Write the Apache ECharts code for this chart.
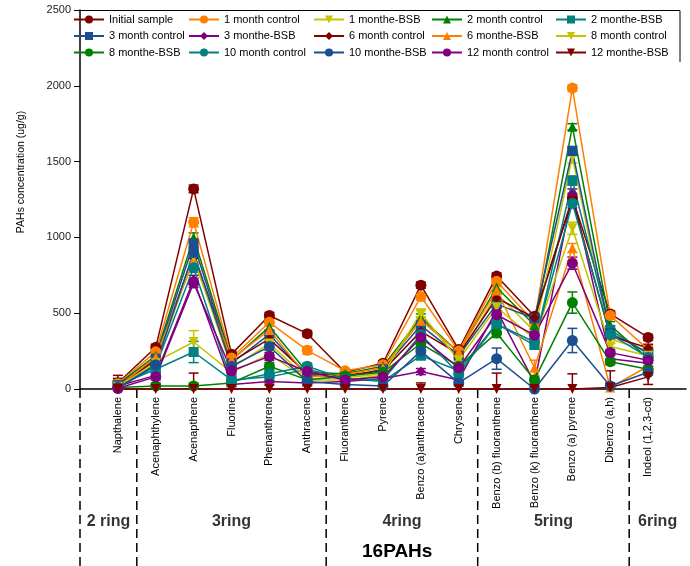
<!DOCTYPE html>
<html>
<head>
<meta charset="utf-8">
<script src="https://cdn.jsdelivr.net/npm/echarts@6/dist/echarts.min.js"></script>
<style>
  html, body { margin: 0; padding: 0; background: #fff; }
  #chart { width: 690px; height: 566px; }
</style>
</head>
<body>
<div id="chart"></div>
<script>
// 16 PAHs, one line per sample
var categories = ['Napthalene', 'Acenaphthylene', 'Acenapthene', 'Fluorine', 'Phenanthrene', 'Anthracene',
    'Fluoranthene', 'Pyrene', 'Benzo (a)anthracene', 'Chrysene', 'Benzo (b) fluoranthene',
    'Benzo (k) fluoranthene', 'Benzo (a) pyrene', 'Dibenzo (a,h)', 'Indeol (1,2,3-cd)'];
var rings = ['2 ring', '3ring', '4ring', '5ring', '6ring'];
var ringSizes = [1, 5, 4, 4, 1];
var yTicks = [0, 500, 1000, 1500, 2000, 2500];

var seriesNames = ['Initial sample', '1 month control', '1 monthe-BSB', '2 month control', '2 monthe-BSB',
    '3 month control', '3 monthe-BSB', '6 month control', '6 monthe-BSB', '8 month control',
    '8 monthe-BSB', '10 month control', '10 monthe-BSB', '12 month control', '12 monthe-BSB'];

var initialSample  = [40, 275, 1320, 230, 485, 365, 110, 170, 685, 260, 745, 480, 1260, 495, 340];
var month1Control  = [35, 245, 1100, 205, 440, 255, 120, 160, 610, 250, 710, 440, 1985, 485, 260];
var month1Bsb      = [30, 180, 310, 110, 230, 60, 60, 90, 490, 200, 630, 380, 1530, 330, 250];
var month2Control  = [30, 220, 1000, 190, 410, 110, 100, 150, 470, 240, 670, 420, 1730, 420, 200];
var month2Bsb      = [25, 130, 244, 60, 80, 130, 70, 50, 220, 120, 430, 290, 1375, 390, 230];
var month3Control  = [25, 200, 960, 170, 360, 90, 80, 130, 420, 220, 560, 465, 1570, 370, 240];
var month3Bsb      = [20, 90, 720, 30, 50, 40, 50, 70, 115, 60, 520, 40, 1290, 200, 170];
var month6Control  = [20, 190, 890, 180, 330, 100, 90, 120, 380, 230, 600, 470, 1250, 350, 270];
var month6Bsb      = [15, 210, 850, 195, 390, 80, 95, 140, 450, 245, 650, 140, 930, 10, 150];
var month8Control  = [15, 170, 870, 140, 300, 70, 75, 100, 500, 190, 540, 330, 1060, 280, 220];
var month8Bsb      = [10, 20, 20, 40, 150, 60, 85, 110, 300, 150, 370, 60, 570, 180, 130];
var month10Control = [10, 150, 800, 50, 100, 150, 65, 60, 360, 100, 430, 310, 1225, 360, 210];
var month10Bsb     = [5, 160, 900, 150, 280, 50, 30, 20, 250, 40, 200, 0, 320, 20, 110];
var month12Control = [5, 80, 700, 120, 215, 115, 60, 80, 340, 140, 490, 355, 830, 240, 190];
var month12Bsb     = [0, 0, 0, 0, 0, 0, 0, 0, 0, 0, 0, 0, 0, 10, 80];

// standard deviations (error bars)
var errInitial   = [30, 20, 25, 20, 20, 20, 15, 15, 20, 20, 20, 20, 30, 20, 20];
var err1Control  = [25, 25, 30, 20, 25, 25, 15, 15, 25, 20, 25, 25, 20, 20, 25];
var err1Bsb      = [20, 20, 75, 20, 30, 20, 15, 20, 30, 20, 25, 25, 40, 25, 25];
var err2Control  = [20, 25, 30, 20, 25, 20, 15, 15, 25, 20, 25, 25, 20, 25, 20];
var err2Bsb      = [20, 20, 70, 20, 25, 20, 15, 15, 25, 20, 25, 25, 30, 25, 25];
var err3Control  = [20, 25, 30, 20, 25, 20, 15, 15, 25, 20, 25, 25, 30, 25, 20];
var err3Bsb      = [15, 20, 30, 15, 25, 20, 15, 15, 20, 15, 25, 20, 30, 25, 20];
var err6Control  = [15, 20, 30, 20, 25, 20, 15, 15, 25, 20, 25, 25, 30, 20, 25];
var err6Bsb      = [15, 20, 30, 20, 25, 20, 15, 15, 25, 20, 25, 50, 30, 20, 20];
var err8Control  = [15, 20, 30, 20, 25, 20, 15, 15, 25, 20, 25, 25, 40, 20, 20];
var err8Bsb      = [10, 20, 20, 20, 25, 20, 15, 15, 25, 20, 30, 20, 70, 20, 20];
var err10Control = [10, 20, 30, 20, 25, 20, 15, 15, 25, 20, 25, 25, 30, 20, 20];
var err10Bsb     = [10, 20, 30, 20, 25, 20, 15, 15, 25, 20, 70, 20, 80, 20, 20];
var err12Control = [10, 20, 30, 20, 25, 20, 15, 15, 25, 20, 25, 25, 40, 20, 20];
var err12Bsb     = [90, 30, 105, 40, 40, 30, 20, 25, 40, 30, 105, 60, 100, 110, 50];

var allValues = [initialSample, month1Control, month1Bsb, month2Control, month2Bsb, month3Control, month3Bsb,
    month6Control, month6Bsb, month8Control, month8Bsb, month10Control, month10Bsb, month12Control, month12Bsb];
var allErrors = [errInitial, err1Control, err1Bsb, err2Control, err2Bsb, err3Control, err3Bsb,
    err6Control, err6Bsb, err8Control, err8Bsb, err10Control, err10Bsb, err12Control, err12Bsb];

var maroon = '#800000', orange = '#ff8000', olive = '#c4c400', green = '#008000',
    teal = '#008080', navy = '#1b4f8f', purple = '#800080';
var colors  = [maroon, orange, olive, green, teal, navy, purple, maroon, orange, olive, green, teal, navy, purple, maroon];
var triDown = 'path://M0,0 L10,0 L5,9 Z';
var symbols = ['circle', 'circle', triDown, 'triangle', 'rect', 'rect', 'diamond', 'diamond',
    'triangle', triDown, 'circle', 'circle', 'circle', 'circle', triDown];

var font = 'Liberation Sans, Arial, sans-serif';

var series = [];
for (var s = 0; s < seriesNames.length; s++) {
    var pts = [], errPts = [];
    for (var i = 0; i < categories.length; i++) {
        pts.push([i + 1, allValues[s][i]]);
        errPts.push([i + 1, allValues[s][i], allErrors[s][i]]);
    }
    (function (color) {
        series.push({
            type: 'custom',
            name: seriesNames[s] + ' err',
            xAxisIndex: 0, yAxisIndex: 0,
            clip: false,
            silent: true,
            data: errPts,
            renderItem: function (params, api) {
                var x = api.value(0), v = api.value(1), e = api.value(2);
                var top = api.coord([x, v + e]);
                var bot = api.coord([x, Math.max(v - e, 0)]);
                var w = 5;
                var st = {stroke: color, lineWidth: 1.5};
                return {
                    type: 'group',
                    children: [
                        {type: 'line', shape: {x1: top[0], y1: top[1], x2: bot[0], y2: bot[1]}, style: st},
                        {type: 'line', shape: {x1: top[0] - w, y1: top[1], x2: top[0] + w, y2: top[1]}, style: st},
                        {type: 'line', shape: {x1: bot[0] - w, y1: bot[1], x2: bot[0] + w, y2: bot[1]}, style: st}
                    ]
                };
            }
        });
    })(colors[s]);
    series.push({
        type: 'line',
        name: seriesNames[s],
        xAxisIndex: 0, yAxisIndex: 0,
        data: pts,
        clip: false,
        symbol: symbols[s],
        symbolSize: symbols[s] === 'circle' ? 11 : 10,
        showAllSymbol: true,
        itemStyle: {color: colors[s]},
        lineStyle: {color: colors[s], width: 1.5},
        emphasis: {disabled: true},
        z: 3
    });
}

// ring group separators and labels (lower panel)
var bounds = [0];
var acc = 0;
for (var r = 0; r < ringSizes.length; r++) {
    acc += ringSizes[r];
    bounds.push(r === ringSizes.length - 1 ? acc + 1 : acc + 0.5);
}
var sepData = bounds.slice(0, bounds.length - 1).map(function (b) { return [b, 0]; });
var ringData = rings.map(function (name, k) { return [(bounds[k] + bounds[k + 1]) / 2, 0.75, name]; });

series.push({
    type: 'custom',
    xAxisIndex: 1, yAxisIndex: 1,
    silent: true,
    clip: false,
    data: sepData,
    renderItem: function (params, api) {
        var a = api.coord([api.value(0), 0]);
        var b = api.coord([api.value(0), 1]);
        return {
            type: 'line',
            shape: {x1: a[0], y1: a[1], x2: b[0], y2: b[1]},
            style: {stroke: '#000', lineWidth: 1.5, lineDash: [9, 5]}
        };
    }
});
series.push({
    type: 'scatter',
    xAxisIndex: 1, yAxisIndex: 1,
    silent: true,
    symbolSize: 1,
    itemStyle: {color: 'rgba(0,0,0,0)'},
    data: ringData,
    label: {
        show: true,
        position: 'inside',
        formatter: function (p) { return p.data[2]; },
        color: '#000',
        fontWeight: 'bold',
        fontSize: 16,
        fontFamily: font
    }
});

var legends = [];
var colLeft = [73, 188, 313, 431, 555];
for (var c = 0; c < 5; c++) {
    legends.push({
        orient: 'vertical',
        left: colLeft[c],
        top: 14,
        itemWidth: 30,
        itemHeight: 10,
        itemGap: 5.5,
        padding: 0,
        selectedMode: false,
        data: [seriesNames[c], seriesNames[c + 5], seriesNames[c + 10]],
        textStyle: {fontSize: 11, color: '#000', fontFamily: font}
    });
}

var chart = echarts.init(document.getElementById('chart'), null, {renderer: 'canvas'});
chart.setOption({
    animation: false,
    backgroundColor: '#fff',
    legend: legends,
    grid: [
        {left: 80, right: 4, top: 10, height: 379},
        {left: 80, right: 4, top: 389, height: 177}
    ],
    xAxis: [
        {
            type: 'value', gridIndex: 0, min: 0, max: 16, interval: 1,
            axisLine: {lineStyle: {color: '#000', width: 1.5}},
            axisTick: {show: false},
            splitLine: {show: false},
            axisLabel: {
                rotate: 90, margin: 8, fontSize: 11, color: '#000', fontFamily: font,
                formatter: function (v) { return categories[v - 1] || ''; }
            }
        },
        {type: 'value', gridIndex: 1, min: 0, max: 16, show: false}
    ],
    yAxis: [
        {
            type: 'value', gridIndex: 0, min: yTicks[0], max: yTicks[yTicks.length - 1], interval: 500,
            axisLine: {show: true, lineStyle: {color: '#000', width: 1.5}},
            axisTick: {show: true, length: 6, lineStyle: {color: '#000'}},
            splitLine: {show: false},
            axisLabel: {
                fontSize: 11, color: '#222', margin: 9, fontFamily: font,
                formatter: function (v) { return String(v); }
            }
        },
        {type: 'value', gridIndex: 1, min: 0, max: 1, inverse: true, show: false}
    ],
    graphic: [
        {type: 'line', shape: {x1: 80, y1: 10.5, x2: 680, y2: 10.5}, style: {stroke: '#000', lineWidth: 1}},
        {type: 'line', shape: {x1: 680, y1: 10.5, x2: 680, y2: 62}, style: {stroke: '#000', lineWidth: 1}},
        {type: 'text', x: 21, y: 172, rotation: Math.PI / 2,
            style: {text: 'PAHs concentration (ug/g)', fontSize: 10.5, fill: '#000', fontFamily: font,
                align: 'center', verticalAlign: 'middle'}},
        {type: 'text', left: 362, top: 542, style: {text: '16PAHs', fontSize: 19, fontWeight: 'bold', fill: '#000', fontFamily: font}}
    ],
    series: series
});
</script>
</body>
</html>
